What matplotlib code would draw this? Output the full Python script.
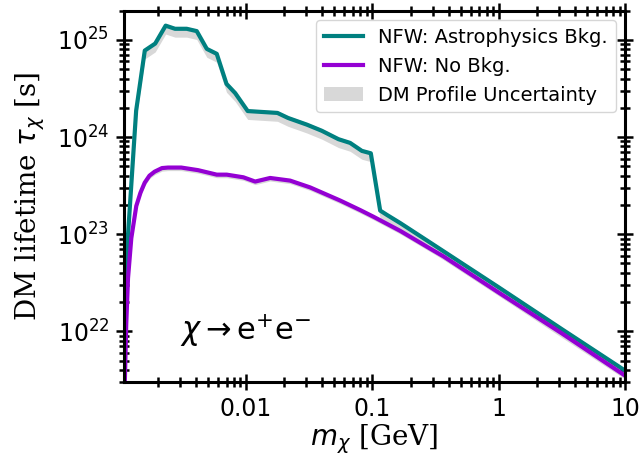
import numpy as np
import matplotlib
matplotlib.use('Agg')
import matplotlib.pyplot as plt

plt.rcParams['mathtext.fontset'] = 'custom'
plt.rcParams['mathtext.rm'] = 'DejaVu Serif'
plt.rcParams['mathtext.it'] = 'DejaVu Sans:italic'
plt.rcParams['mathtext.sf'] = 'DejaVu Sans'

# NFW with astrophysical background
m_astro = [1.10e-3, 1.17e-3, 1.35e-3, 1.58e-3, 1.91e-3, 2.31e-3, 2.74e-3, 3.39e-3,
           4.07e-3, 4.89e-3, 5.86e-3, 7.0e-3, 8.2e-3, 1.03e-2, 1.77e-2, 2.15e-2,
           3.03e-2, 3.97e-2, 5.38e-2, 6.65e-2, 8.24e-2, 9.7e-2, 0.115, 0.130,
           0.166, 0.286, 1.0, 3.16, 10.0]
tau_astro = [3.2e22, 1.09e23, 1.87e24, 7.76e24, 9.16e24, 1.40e25, 1.30e25, 1.30e25,
             1.23e25, 8.07e24, 7.18e24, 3.52e24, 2.83e24, 1.85e24, 1.77e24, 1.57e24,
             1.34e24, 1.16e24, 9.5e23, 8.7e23, 7.2e23, 6.8e23, 1.75e23, 1.58e23,
             1.30e23, 8.2e22, 2.83e22, 1.05e22, 3.93e21]

# NFW without background
m_nobkg = [1.09e-3, 1.127e-3, 1.164e-3, 1.236e-3, 1.353e-3, 1.46e-3, 1.578e-3, 1.72e-3,
           1.89e-3, 2.16e-3, 2.41e-3, 3.07e-3, 4.17e-3, 5.86e-3, 7.03e-3, 9.52e-3,
           1.18e-2, 1.55e-2, 2.23e-2, 3.21e-2, 5.55e-2, 8.0e-2, 0.102, 0.166,
           0.286, 0.365, 1.0, 3.16, 10.0]
tau_nobkg = [2.0e21, 1.19e22, 3.53e22, 9.1e22, 1.95e23, 2.67e23, 3.39e23, 4.0e23,
             4.40e23, 4.79e23, 4.85e23, 4.85e23, 4.56e23, 4.1e23, 4.1e23, 3.85e23,
             3.48e23, 3.79e23, 3.56e23, 3.03e23, 2.22e23, 1.77e23, 1.51e23, 1.08e23,
             7.1e22, 5.9e22, 2.5e22, 9.5e21, 3.49e21]

# DM profile uncertainty (relative band)
band_lo = 0.82
band_hi = 1.05

m_astro = np.array(m_astro)
tau_astro = np.array(tau_astro)
m_nobkg = np.array(m_nobkg)
tau_nobkg = np.array(tau_nobkg)

fig = plt.figure(figsize=(6.42, 4.61), dpi=100)
ax = fig.add_axes([0.193, 0.171, 0.781, 0.806])

ax.fill_between(m_astro, tau_astro * band_lo, tau_astro * band_hi, color='#d8d8d8',
                lw=0, label='DM Profile Uncertainty')
ax.fill_between(m_nobkg, tau_nobkg * 0.93, tau_nobkg * 1.03, color='#d8d8d8', lw=0)
ax.plot(m_astro, tau_astro, color='teal', lw=3, label='NFW: Astrophysics Bkg.')
ax.plot(m_nobkg, tau_nobkg, color='darkviolet', lw=3, label='NFW: No Bkg.')

ax.set_xscale('log')
ax.set_yscale('log')
ax.set_xlim(1.08e-3, 10)
ax.set_ylim(3e21, 2e25)

ax.set_xticks([0.01, 0.1, 1, 10])
ax.set_xticklabels(['0.01', '0.1', '1', '10'])

ax.tick_params(which='both', direction='inout', top=True, right=True,
               labelsize=17, width=1.8, pad=5)
ax.tick_params(which='major', length=11)
ax.tick_params(which='minor', length=7)
for s in ax.spines.values():
    s.set_linewidth(2.2)

ax.set_xlabel(r'$m_{\chi}\ [\mathrm{GeV}]$', fontsize=20, labelpad=1)
ax.set_ylabel(r'$\mathrm{DM\ lifetime}\ \tau_{\chi}\ [\mathrm{s}]$', fontsize=20, labelpad=7)

ax.text(0.112, 0.113, r'$\chi \rightarrow \mathrm{e}^{+}\mathrm{e}^{-}$', fontsize=22,
        transform=ax.transAxes, ha='left', va='baseline', math_fontfamily='dejavusans')

# legend order: lines first, band last
h, l = ax.get_legend_handles_labels()
order = [1, 2, 0]
ax.legend([h[i] for i in order], [l[i] for i in order], loc='upper right',
          fontsize=14, labelspacing=0.5)

plt.savefig('out.png', dpi=100)
